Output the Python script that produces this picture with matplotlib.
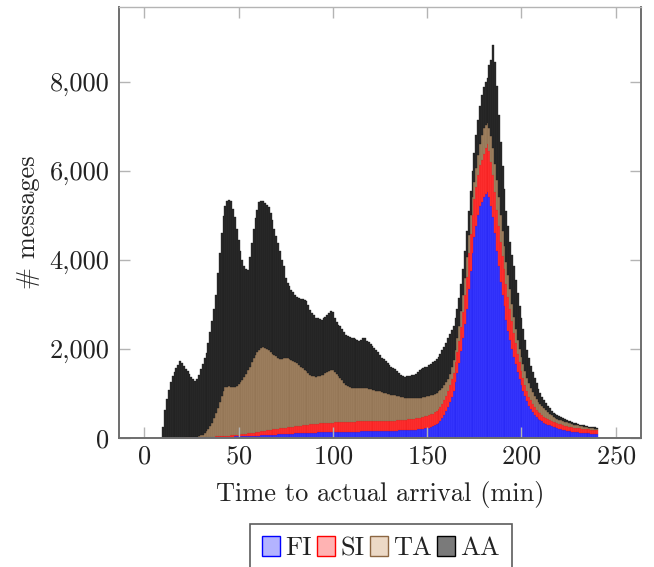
import numpy as np
import matplotlib
matplotlib.use("Agg")
import matplotlib.pyplot as plt
from matplotlib.patches import Patch
from matplotlib.ticker import FuncFormatter

# Minutes before actual arrival (1-minute bins)
minutes = list(range(10, 241))

# Message counts per bin for each source
fi = [
    0, 0, 0, 0, 1, 1, 1, 1, 2, 2,
    2, 3, 3, 3, 4, 4, 5, 5, 6, 6,
    7, 8, 9, 10, 11, 12, 13, 14, 15, 16,
    17, 18, 19, 20, 21, 22, 23, 25, 27, 28,
    30, 31, 33, 34, 36, 37, 39, 40, 42, 43,
    45, 47, 50, 52, 55, 57, 60, 62, 65, 67,
    70, 72, 75, 77, 80, 82, 85, 87, 90, 92,
    95, 97, 99, 101, 103, 105, 107, 109, 111, 113,
    115, 116, 117, 118, 119, 120, 121, 122, 123, 124,
    125, 126, 127, 128, 129, 130, 131, 132, 133, 134,
    135, 136, 137, 138, 139, 140, 141, 142, 143, 144,
    145, 146, 147, 148, 149, 150, 151, 152, 153, 154,
    155, 156, 157, 158, 160, 162, 163, 165, 166, 168,
    170, 173, 176, 179, 183, 187, 190, 195, 200, 207,
    215, 225, 240, 255, 275, 300, 330, 380, 440, 510,
    600, 700, 800, 920, 1050, 1250, 1450, 1680, 1950, 2250,
    2550, 2900, 3350, 3750, 4150, 4500, 4750, 5000, 5200, 5300,
    5400, 5480, 5530, 5400, 5200, 4950, 4600, 4200, 3850, 3500,
    3200, 2950, 2650, 2400, 2200, 2000, 1820, 1650, 1480, 1330,
    1180, 1050, 930, 820, 710, 640, 580, 520, 470, 430,
    400, 370, 340, 315, 295, 275, 262, 250, 235, 220,
    205, 190, 178, 165, 155, 148, 140, 135, 128, 122,
    118, 112, 108, 105, 102, 98, 95, 93, 91, 90,
    88,
]
si = [
    0, 0, 0, 0, 0, 0, 1, 1, 1, 1,
    1, 1, 2, 2, 2, 3, 3, 3, 4, 4,
    5, 5, 6, 7, 8, 9, 10, 11, 12, 14,
    15, 17, 19, 21, 23, 25, 28, 31, 34, 37,
    40, 44, 48, 52, 56, 60, 64, 68, 72, 76,
    80, 85, 90, 95, 100, 105, 110, 115, 120, 125,
    128, 131, 134, 137, 140, 143, 146, 150, 153, 156,
    160, 163, 166, 170, 173, 176, 180, 183, 186, 190,
    193, 196, 200, 203, 206, 208, 210, 212, 214, 215,
    216, 217, 218, 219, 220, 221, 222, 223, 224, 225,
    226, 226, 227, 227, 228, 228, 229, 229, 230, 230,
    230, 230, 228, 226, 224, 222, 220, 220, 221, 222,
    223, 224, 226, 228, 230, 232, 234, 236, 238, 240,
    242, 245, 248, 251, 254, 257, 260, 263, 266, 270,
    274, 278, 283, 288, 293, 298, 305, 313, 322, 332,
    345, 360, 375, 395, 415, 440, 470, 500, 540, 580,
    650, 720, 790, 830, 850, 860, 880, 900, 920, 950,
    980, 1030, 1060, 1050, 1000, 960, 930, 910, 900, 890,
    880, 850, 810, 760, 700, 630, 540, 470, 410, 360,
    320, 290, 260, 235, 215, 200, 185, 170, 160, 150,
    145, 140, 135, 130, 125, 120, 117, 114, 112, 110,
    108, 107, 106, 105, 104, 103, 102, 101, 100, 99,
    98, 97, 96, 95, 94, 93, 92, 91, 90, 90,
    90,
]
ta = [
    0, 0, 0, 0, 0, 0, 0, 0, 0, 0,
    0, 0, 0, 0, 0, 0, 2, 7, 15, 25,
    38, 57, 85, 123, 171, 239, 317, 415, 533, 640,
    768, 895, 1022, 1089, 1106, 1108, 1099, 1094, 1089, 1095,
    1130, 1175, 1219, 1274, 1348, 1423, 1497, 1582, 1666, 1741,
    1805, 1848, 1875, 1883, 1865, 1838, 1790, 1743, 1695, 1658,
    1632, 1597, 1561, 1546, 1560, 1575, 1559, 1523, 1497, 1472,
    1445, 1410, 1365, 1329, 1284, 1239, 1203, 1158, 1123, 1087,
    1072, 1063, 1061, 1059, 1075, 1092, 1114, 1136, 1163, 1186,
    1187, 1137, 1085, 1043, 991, 939, 887, 840, 803, 781,
    759, 753, 751, 750, 748, 752, 750, 744, 737, 726,
    715, 704, 690, 681, 672, 668, 659, 643, 631, 614,
    602, 590, 577, 564, 550, 536, 518, 504, 491, 482,
    478, 470, 464, 460, 453, 448, 445, 442, 444, 443,
    441, 442, 432, 423, 417, 412, 405, 387, 358, 338,
    305, 270, 255, 265, 285, 290, 330, 320, 360, 370,
    400, 430, 410, 420, 400, 390, 420, 450, 480, 550,
    570, 520, 480, 500, 580, 590, 620, 670, 650, 610,
    570, 500, 490, 490, 450, 370, 360, 330, 310, 310,
    320, 310, 300, 295, 305, 280, 255, 250, 240, 230,
    215, 200, 185, 175, 160, 145, 126, 111, 103, 95,
    92, 93, 91, 90, 86, 84, 83, 74, 67, 64,
    59, 56, 51, 45, 42, 39, 35, 31, 29, 25,
    22,
]
aa = [
    250, 630, 860, 1078, 1249, 1379, 1478, 1564, 1637, 1713,
    1677, 1606, 1545, 1485, 1424, 1363, 1300, 1251, 1305, 1385,
    1490, 1590, 1680, 1760, 1930, 2120, 2280, 2460, 2640, 3030,
    3350, 3670, 3920, 4070, 4160, 4185, 4161, 4000, 3800, 3540,
    3250, 2950, 2700, 2490, 2340, 2255, 2450, 2690, 2920, 3070,
    3190, 3310, 3315, 3280, 3254, 3230, 3220, 3130, 3020, 2850,
    2700, 2575, 2430, 2240, 2070, 1800, 1690, 1640, 1586, 1550,
    1510, 1490, 1509, 1520, 1550, 1581, 1573, 1530, 1460, 1420,
    1370, 1325, 1311, 1290, 1252, 1260, 1275, 1294, 1300, 1314,
    1302, 1200, 1170, 1150, 1162, 1150, 1140, 1120, 1120, 1120,
    1125, 1115, 1095, 1075, 1050, 1080, 1120, 1115, 1070, 1040,
    1020, 980, 955, 922, 875, 820, 770, 745, 715, 688,
    660, 630, 606, 590, 551, 520, 495, 473, 480, 488,
    490, 502, 512, 526, 550, 578, 625, 640, 650, 660,
    670, 685, 705, 724, 730, 750, 780, 800, 840, 860,
    880, 900, 900, 840, 770, 720, 650, 650, 600, 600,
    600, 600, 550, 550, 600, 650, 750, 800, 850, 900,
    930, 970, 1010, 1430, 1700, 2330, 2300, 2120, 1850, 1650,
    1450, 1300, 1150, 1100, 1050, 1100, 1130, 1100, 1050, 950,
    880, 800, 710, 630, 570, 500, 460, 400, 350, 290,
    240, 210, 190, 160, 140, 120, 105, 85, 80, 75,
    75, 70, 65, 60, 59, 50, 40, 40, 40, 35,
    30, 30, 30, 30, 24, 25, 26, 27, 26, 27,
    28,
]

series_names = ["FI", "SI", "TA", "AA"]
bar_colors = ["#3a3aff", "#ff3333", "#a08262", "#2a2a2a"]
bar_edges = ["#1a1aee", "#ee1111", "#86684a", "#1a1a1a"]
legend_faces = ["#b3b3ff", "#ffb3b3", "#ecd9c6", "#7a7a7a"]
legend_edges = ["#0000ff", "#ff0000", "#8c6642", "#000000"]

plt.rcParams["font.family"] = "cmr10"
plt.rcParams["axes.formatter.use_mathtext"] = True
plt.rcParams["mathtext.fontset"] = "cm"

FS = 19

fig = plt.figure(figsize=(6.54, 5.67), dpi=100)
ax = fig.add_axes([119 / 654, 1 - 437.7 / 567, (640.7 - 119) / 654, (437.7 - 7.3) / 567])

x = np.array(minutes)
bottom = np.zeros(len(x))
for vals, fc, ec in zip([fi, si, ta, aa], bar_colors, bar_edges):
    v = np.array(vals, dtype=float)
    ax.bar(x, v, width=1.0, bottom=bottom, color=fc, edgecolor=ec,
           linewidth=0.25, align="center")
    bottom += v

ax.set_xlim(-13.4, 263.2)
ax.set_ylim(0, 9672)
ax.set_xticks([0, 50, 100, 150, 200, 250])
ax.set_yticks([0, 2000, 4000, 6000, 8000])
ax.yaxis.set_major_formatter(FuncFormatter(lambda v, p: f"{int(v):,}"))

text_color = "#222222"
ax.tick_params(direction="in", length=8, width=1, color="#b4b4b4",
               top=True, right=True, labelsize=FS, labelcolor=text_color)
ax.tick_params(axis="x", pad=5)
ax.tick_params(axis="y", pad=7)

for side in ["left", "right", "bottom"]:
    ax.spines[side].set_color("#6e6e6e")
    ax.spines[side].set_linewidth(1.4)
ax.spines["top"].set_color("#b4b4b4")
ax.spines["top"].set_linewidth(1.0)

ax.set_xlabel("Time to actual arrival (min)", fontsize=FS, color=text_color, labelpad=9)
ax.set_ylabel("# messages", fontsize=FS, color=text_color, labelpad=7)

handles = [Patch(facecolor=f, edgecolor=e, linewidth=1.0)
           for f, e in zip(legend_faces, legend_edges)]
leg = fig.legend(handles, series_names, loc="upper center",
                 bbox_to_anchor=(381 / 654, 1 - 524 / 567), ncol=4,
                 fontsize=FS, frameon=True, fancybox=False,
                 handlelength=0.68, handleheight=0.8, handletextpad=0.2,
                 columnspacing=0.2, borderpad=0.45, borderaxespad=0)
leg.get_frame().set_edgecolor("#333333")
leg.get_frame().set_linewidth(1.2)
for t in leg.get_texts():
    t.set_color(text_color)

fig.savefig("out.png", dpi=100)
